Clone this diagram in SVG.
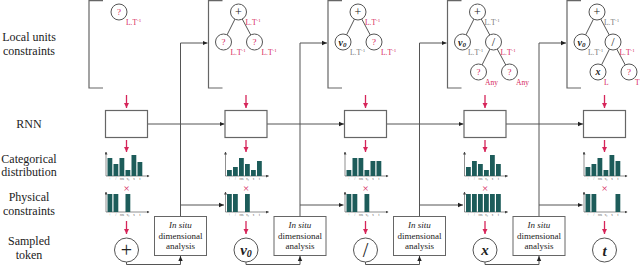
<svg xmlns="http://www.w3.org/2000/svg" width="640" height="266" viewBox="0 0 640 266">
<defs>
<style>
text{font-family:"Liberation Serif","Times New Roman","DejaVu Serif",serif}
.lbl{font-size:12px;fill:#222;text-anchor:middle}
.ln{fill:none;stroke:#555;stroke-width:1}
.br{fill:none;stroke:#666;stroke-width:1.2}
.red{fill:none;stroke:#d6255a;stroke-width:1.3}
.tc{fill:#fff;stroke:#555;stroke-width:1}
.tk{fill:#fff;stroke:#555;stroke-width:1}
.q{font-size:9px;fill:#d6255a;text-anchor:middle}
.op{font-size:12px;fill:#222;text-anchor:middle}
.mv{font-size:10px;font-weight:bold;font-style:italic;fill:#222;text-anchor:middle}
.bigop{font-size:20px;fill:#222;text-anchor:middle}
.bigv{font-size:15px;font-weight:bold;font-style:italic;fill:#222;text-anchor:middle}
.ur{font-size:7.5px;fill:#d6255a}
.ug{font-size:7.5px;fill:#777}
.sup{font-size:5px}
.rnn{fill:#fff;stroke:#666;stroke-width:1.2}
.isb{fill:#fff;stroke:#666;stroke-width:1}
.ist{font-size:9px;fill:#222;text-anchor:middle}
.bar{fill:#1d5c5a}
.ax{fill:none;stroke:#444;stroke-width:0.6}
.tl{font-size:3px;fill:#444;text-anchor:middle}
.x{font-size:11px;fill:#d6255a;text-anchor:middle}
</style>
<marker id="ah" markerWidth="6" markerHeight="6" refX="5" refY="3" orient="auto" markerUnits="userSpaceOnUse">
<path d="M0,0.8 L5,3 L0,5.2 Z" fill="#222"/>
</marker>
<marker id="rah" markerWidth="6" markerHeight="6" refX="5" refY="3" orient="auto" markerUnits="userSpaceOnUse">
<path d="M0,0.5 L5,3 L0,5.5 Z" fill="#d6255a"/>
</marker>
<marker id="aa" markerWidth="3" markerHeight="3" refX="2.5" refY="1.5" orient="auto" markerUnits="userSpaceOnUse">
<path d="M0,0 L3,1.5 L0,3 Z" fill="#444"/>
</marker>
</defs>
<rect width="640" height="266" fill="#fff"/>

<g id="row-labels">
<text class="lbl" x="29" y="41">Local units</text>
<text class="lbl" x="29" y="55">constraints</text>
<text class="lbl" x="29" y="127.5">RNN</text>
<text class="lbl" x="29" y="162.5">Categorical</text>
<text class="lbl" x="29" y="176">distribution</text>
<text class="lbl" x="29" y="201">Physical</text>
<text class="lbl" x="29" y="215">constraints</text>
<text class="lbl" x="29" y="244.5">Sampled</text>
<text class="lbl" x="29" y="259">token</text>
</g>

<g id="connectors">
<path class="ln" d="M147.5,124 H224.5" marker-end="url(#ah)"/>
<path class="ln" d="M267,124 H344" marker-end="url(#ah)"/>
<path class="ln" d="M386.5,124 H463.5" marker-end="url(#ah)"/>
<path class="ln" d="M506,124 H583" marker-end="url(#ah)"/>
<path class="ln" d="M126.5,262 V264.5 H180.5 V256" marker-end="url(#ah)"/>
<path class="ln" d="M246,262 V264.5 H300 V256" marker-end="url(#ah)"/>
<path class="ln" d="M365.5,262 V264.5 H419.5 V256" marker-end="url(#ah)"/>
<path class="ln" d="M485,262 V264.5 H539 V256" marker-end="url(#ah)"/>
<path class="ln" d="M180.5,216 V43 H207.5" marker-end="url(#ah)"/>
<path class="ln" d="M300,216 V43 H327" marker-end="url(#ah)"/>
<path class="ln" d="M419.5,216 V43 H446.5" marker-end="url(#ah)"/>
<path class="ln" d="M539,216 V43 H566" marker-end="url(#ah)"/>
<path class="ln" d="M180.5,205 H224" marker-end="url(#ah)"/>
<path class="ln" d="M300,205 H343.5" marker-end="url(#ah)"/>
<path class="ln" d="M419.5,205 H463" marker-end="url(#ah)"/>
<path class="ln" d="M539,205 H582.5" marker-end="url(#ah)"/>
<path class="red" d="M126.5,95 V108" marker-end="url(#rah)"/>
<path class="red" d="M246,95 V108" marker-end="url(#rah)"/>
<path class="red" d="M365.5,95 V108" marker-end="url(#rah)"/>
<path class="red" d="M485,95 V108" marker-end="url(#rah)"/>
<path class="red" d="M604.5,95 V108" marker-end="url(#rah)"/>
<path class="red" d="M126.5,140 V152" marker-end="url(#rah)"/>
<path class="red" d="M246,140 V152" marker-end="url(#rah)"/>
<path class="red" d="M365.5,140 V152" marker-end="url(#rah)"/>
<path class="red" d="M485,140 V152" marker-end="url(#rah)"/>
<path class="red" d="M604.5,140 V152" marker-end="url(#rah)"/>
<path class="red" d="M126.5,221 V234" marker-end="url(#rah)"/>
<path class="red" d="M246,221 V234" marker-end="url(#rah)"/>
<path class="red" d="M365.5,221 V234" marker-end="url(#rah)"/>
<path class="red" d="M485,221 V234" marker-end="url(#rah)"/>
<path class="red" d="M604.5,221 V234" marker-end="url(#rah)"/>
</g>

<!-- Column 1 -->
<g id="tree1">
<path class="br" d="M103,0.6 H89 V88 H103"/>
<circle class="tc" cx="119" cy="12" r="8"/>
<text class="q" x="119" y="15">?</text>
<text class="ur" x="126" y="25">L.T<tspan class="sup" dy="-3">-1</tspan></text>
</g>
<g id="rnn1"><rect class="rnn" x="105.5" y="110.5" width="42" height="27"/></g>
<g id="cat1">
<path class="ax" d="M106,176 V152" marker-end="url(#aa)"/>
<path class="ax" d="M106,176 H149" marker-end="url(#aa)"/>
<rect class="bar" x="107.5" y="158" width="4.8" height="18"/>
<rect class="bar" x="113.5" y="164" width="4.8" height="12"/>
<rect class="bar" x="119.5" y="158" width="4.8" height="18"/>
<rect class="bar" x="125.5" y="170" width="4.8" height="6"/>
<rect class="bar" x="131.5" y="155" width="4.8" height="21"/>
<rect class="bar" x="137.5" y="162" width="4.8" height="14"/>
<text class="tl" x="109.9" y="180">+</text><text class="tl" x="115.9" y="180">/</text><text class="tl" x="121.9" y="180">cos</text><text class="tl" x="127.9" y="180">v₀</text><text class="tl" x="133.9" y="180">x</text><text class="tl" x="139.9" y="180">t</text>
</g>
<g id="phys1">
<text class="x" x="126.5" y="191.5">×</text>
<path class="ax" d="M106,212 V192" marker-end="url(#aa)"/>
<path class="ax" d="M106,212 H149" marker-end="url(#aa)"/>
<rect class="bar" x="107.5" y="194" width="4.8" height="18"/>
<rect class="bar" x="113.5" y="194" width="4.8" height="18"/>
<rect class="bar" x="125.5" y="194" width="4.8" height="18"/>
<text class="tl" x="109.9" y="216">+</text><text class="tl" x="115.9" y="216">/</text><text class="tl" x="121.9" y="216">cos</text><text class="tl" x="127.9" y="216">v₀</text><text class="tl" x="133.9" y="216">x</text><text class="tl" x="139.9" y="216">t</text>
</g>
<g id="token1">
<circle class="tk" cx="126.5" cy="250" r="12"/>
<text class="bigop" x="126.5" y="257">+</text>
</g>
<g id="insitu1">
<rect class="isb" x="154.5" y="216.5" width="52" height="39"/>
<text class="ist" x="180.5" y="228" font-style="italic">In situ</text>
<text class="ist" x="180.5" y="238.5">dimensional</text>
<text class="ist" x="180.5" y="249">analysis</text>
</g>

<!-- Column 2 -->
<g id="tree2">
<path class="br" d="M222.5,0.6 H208.5 V88 H222.5"/>
<path class="ln" d="M238.5,12 L223.5,42 M238.5,12 L254.5,42"/>
<circle class="tc" cx="238.5" cy="12" r="8"/>
<text class="op" x="238.5" y="16">+</text>
<text class="ur" x="245.5" y="25">L.T<tspan class="sup" dy="-3">-1</tspan></text>
<circle class="tc" cx="223.5" cy="42" r="8"/>
<text class="q" x="223.5" y="45">?</text>
<text class="ur" x="230.5" y="55">L.T<tspan class="sup" dy="-3">-1</tspan></text>
<circle class="tc" cx="254.5" cy="42" r="8"/>
<text class="q" x="254.5" y="45">?</text>
<text class="ur" x="261.5" y="55">L.T<tspan class="sup" dy="-3">-1</tspan></text>
</g>
<g id="rnn2"><rect class="rnn" x="225" y="110.5" width="42" height="27"/></g>
<g id="cat2">
<path class="ax" d="M225.5,176 V152" marker-end="url(#aa)"/>
<path class="ax" d="M225.5,176 H268.5" marker-end="url(#aa)"/>
<rect class="bar" x="227" y="170" width="4.8" height="6"/>
<rect class="bar" x="233" y="167" width="4.8" height="9"/>
<rect class="bar" x="239" y="158" width="4.8" height="18"/>
<rect class="bar" x="245" y="164" width="4.8" height="12"/>
<rect class="bar" x="251" y="170" width="4.8" height="6"/>
<rect class="bar" x="257" y="161" width="4.8" height="15"/>
<text class="tl" x="229.4" y="180">+</text><text class="tl" x="235.4" y="180">/</text><text class="tl" x="241.4" y="180">cos</text><text class="tl" x="247.4" y="180">v₀</text><text class="tl" x="253.4" y="180">x</text><text class="tl" x="259.4" y="180">t</text>
</g>
<g id="phys2">
<text class="x" x="246" y="191.5">×</text>
<path class="ax" d="M225.5,212 V192" marker-end="url(#aa)"/>
<path class="ax" d="M225.5,212 H268.5" marker-end="url(#aa)"/>
<rect class="bar" x="227" y="194" width="4.8" height="18"/>
<rect class="bar" x="233" y="194" width="4.8" height="18"/>
<rect class="bar" x="245" y="194" width="4.8" height="18"/>
<text class="tl" x="229.4" y="216">+</text><text class="tl" x="235.4" y="216">/</text><text class="tl" x="241.4" y="216">cos</text><text class="tl" x="247.4" y="216">v₀</text><text class="tl" x="253.4" y="216">x</text><text class="tl" x="259.4" y="216">t</text>
</g>
<g id="token2">
<circle class="tk" cx="246" cy="250" r="12"/>
<text class="bigv" x="246" y="255">v<tspan font-size="10" dy="2">0</tspan></text>
</g>
<g id="insitu2">
<rect class="isb" x="274" y="216.5" width="52" height="39"/>
<text class="ist" x="300" y="228" font-style="italic">In situ</text>
<text class="ist" x="300" y="238.5">dimensional</text>
<text class="ist" x="300" y="249">analysis</text>
</g>

<!-- Column 3 -->
<g id="tree3">
<path class="br" d="M342,0.6 H328 V88 H342"/>
<path class="ln" d="M358,12 L343,42 M358,12 L374,42"/>
<circle class="tc" cx="358" cy="12" r="8"/>
<text class="op" x="358" y="16">+</text>
<text class="ur" x="365" y="25">L.T<tspan class="sup" dy="-3">-1</tspan></text>
<circle class="tc" cx="343" cy="42" r="8"/>
<text class="mv" x="342.5" y="45.5">v<tspan font-size="7" dy="1.5">0</tspan></text>
<text class="ug" x="350" y="55">L.T<tspan class="sup" dy="-3">-1</tspan></text>
<circle class="tc" cx="374" cy="42" r="8"/>
<text class="q" x="374" y="45">?</text>
<text class="ur" x="381" y="55">L.T<tspan class="sup" dy="-3">-1</tspan></text>
</g>
<g id="rnn3"><rect class="rnn" x="344.5" y="110.5" width="42" height="27"/></g>
<g id="cat3">
<path class="ax" d="M345,176 V152" marker-end="url(#aa)"/>
<path class="ax" d="M345,176 H388" marker-end="url(#aa)"/>
<rect class="bar" x="346.5" y="170" width="4.8" height="6"/>
<rect class="bar" x="352.5" y="158" width="4.8" height="18"/>
<rect class="bar" x="358.5" y="158" width="4.8" height="18"/>
<rect class="bar" x="364.5" y="170" width="4.8" height="6"/>
<rect class="bar" x="370.5" y="161" width="4.8" height="15"/>
<rect class="bar" x="376.5" y="161" width="4.8" height="15"/>
<text class="tl" x="348.9" y="180">+</text><text class="tl" x="354.9" y="180">/</text><text class="tl" x="360.9" y="180">cos</text><text class="tl" x="366.9" y="180">v₀</text><text class="tl" x="372.9" y="180">x</text><text class="tl" x="378.9" y="180">t</text>
</g>
<g id="phys3">
<text class="x" x="365.5" y="191.5">×</text>
<path class="ax" d="M345,212 V192" marker-end="url(#aa)"/>
<path class="ax" d="M345,212 H388" marker-end="url(#aa)"/>
<rect class="bar" x="346.5" y="194" width="4.8" height="18"/>
<rect class="bar" x="352.5" y="194" width="4.8" height="18"/>
<rect class="bar" x="364.5" y="194" width="4.8" height="18"/>
<text class="tl" x="348.9" y="216">+</text><text class="tl" x="354.9" y="216">/</text><text class="tl" x="360.9" y="216">cos</text><text class="tl" x="366.9" y="216">v₀</text><text class="tl" x="372.9" y="216">x</text><text class="tl" x="378.9" y="216">t</text>
</g>
<g id="token3">
<circle class="tk" cx="365.5" cy="250" r="12"/>
<text class="bigop" x="365.5" y="256.5">/</text>
</g>
<g id="insitu3">
<rect class="isb" x="393.5" y="216.5" width="52" height="39"/>
<text class="ist" x="419.5" y="228" font-style="italic">In situ</text>
<text class="ist" x="419.5" y="238.5">dimensional</text>
<text class="ist" x="419.5" y="249">analysis</text>
</g>

<!-- Column 4 -->
<g id="tree4">
<path class="br" d="M461.5,0.6 H447.5 V88 H461.5"/>
<path class="ln" d="M477.5,12 L462.5,42 M477.5,12 L493.5,42 M493.5,42 L478.5,72 M493.5,42 L509.5,72"/>
<circle class="tc" cx="477.5" cy="12" r="8"/>
<text class="op" x="477.5" y="16">+</text>
<text class="ug" x="484.5" y="25">L.T<tspan class="sup" dy="-3">-1</tspan></text>
<circle class="tc" cx="462.5" cy="42" r="8"/>
<text class="mv" x="462" y="45.5">v<tspan font-size="7" dy="1.5">0</tspan></text>
<text class="ug" x="468" y="55">L.T<tspan class="sup" dy="-3">-1</tspan></text>
<circle class="tc" cx="493.5" cy="42" r="8"/>
<text class="op" x="493.5" y="46">/</text>
<text class="ur" x="500.5" y="55">L.T<tspan class="sup" dy="-3">-1</tspan></text>
<circle class="tc" cx="478.5" cy="72" r="8"/>
<text class="q" x="478.5" y="75">?</text>
<text class="ur" x="485" y="85">Any</text>
<circle class="tc" cx="509.5" cy="72" r="8"/>
<text class="q" x="509.5" y="75">?</text>
<text class="ur" x="516" y="85">Any</text>
</g>
<g id="rnn4"><rect class="rnn" x="464" y="110.5" width="42" height="27"/></g>
<g id="cat4">
<path class="ax" d="M464.5,176 V152" marker-end="url(#aa)"/>
<path class="ax" d="M464.5,176 H507.5" marker-end="url(#aa)"/>
<rect class="bar" x="466" y="167" width="4.8" height="9"/>
<rect class="bar" x="472" y="161" width="4.8" height="15"/>
<rect class="bar" x="478" y="164" width="4.8" height="12"/>
<rect class="bar" x="484" y="170" width="4.8" height="6"/>
<rect class="bar" x="490" y="155" width="4.8" height="21"/>
<rect class="bar" x="496" y="164" width="4.8" height="12"/>
<text class="tl" x="468.4" y="180">+</text><text class="tl" x="474.4" y="180">/</text><text class="tl" x="480.4" y="180">cos</text><text class="tl" x="486.4" y="180">v₀</text><text class="tl" x="492.4" y="180">x</text><text class="tl" x="498.4" y="180">t</text>
</g>
<g id="phys4">
<text class="x" x="485" y="191.5">×</text>
<path class="ax" d="M464.5,212 V192" marker-end="url(#aa)"/>
<path class="ax" d="M464.5,212 H507.5" marker-end="url(#aa)"/>
<rect class="bar" x="466" y="194" width="4.8" height="18"/>
<rect class="bar" x="472" y="194" width="4.8" height="18"/>
<rect class="bar" x="478" y="194" width="4.8" height="18"/>
<rect class="bar" x="484" y="194" width="4.8" height="18"/>
<rect class="bar" x="490" y="194" width="4.8" height="18"/>
<rect class="bar" x="496" y="194" width="4.8" height="18"/>
<text class="tl" x="468.4" y="216">+</text><text class="tl" x="474.4" y="216">/</text><text class="tl" x="480.4" y="216">cos</text><text class="tl" x="486.4" y="216">v₀</text><text class="tl" x="492.4" y="216">x</text><text class="tl" x="498.4" y="216">t</text>
</g>
<g id="token4">
<circle class="tk" cx="485" cy="250" r="12"/>
<text class="bigv" x="485" y="254.5">x</text>
</g>
<g id="insitu4">
<rect class="isb" x="513" y="216.5" width="52" height="39"/>
<text class="ist" x="539" y="228" font-style="italic">In situ</text>
<text class="ist" x="539" y="238.5">dimensional</text>
<text class="ist" x="539" y="249">analysis</text>
</g>

<!-- Column 5 -->
<g id="tree5">
<path class="br" d="M581,0.6 H567 V88 H581"/>
<path class="ln" d="M597,12 L582,42 M597,12 L613,42 M613,42 L598,72 M613,42 L629,72"/>
<circle class="tc" cx="597" cy="12" r="8"/>
<text class="op" x="597" y="16">+</text>
<text class="ug" x="604" y="25">L.T<tspan class="sup" dy="-3">-1</tspan></text>
<circle class="tc" cx="582" cy="42" r="8"/>
<text class="mv" x="581.5" y="45.5">v<tspan font-size="7" dy="1.5">0</tspan></text>
<text class="ug" x="588" y="55">L.T<tspan class="sup" dy="-3">-1</tspan></text>
<circle class="tc" cx="613" cy="42" r="8"/>
<text class="op" x="613" y="46">/</text>
<text class="ur" x="619.5" y="55">L.T<tspan class="sup" dy="-3">-1</tspan></text>
<circle class="tc" cx="598" cy="72" r="8"/>
<text class="mv" x="598" y="75">x</text>
<text class="ur" x="604" y="85">L</text>
<circle class="tc" cx="629" cy="72" r="8"/>
<text class="q" x="629" y="75">?</text>
<text class="ur" x="635" y="85">T</text>
</g>
<g id="rnn5"><rect class="rnn" x="583.5" y="110.5" width="42" height="27"/></g>
<g id="cat5">
<path class="ax" d="M584,176 V152" marker-end="url(#aa)"/>
<path class="ax" d="M584,176 H627" marker-end="url(#aa)"/>
<rect class="bar" x="585.5" y="167" width="4.8" height="9"/>
<rect class="bar" x="591.5" y="164" width="4.8" height="12"/>
<rect class="bar" x="597.5" y="158" width="4.8" height="18"/>
<rect class="bar" x="603.5" y="170" width="4.8" height="6"/>
<rect class="bar" x="609.5" y="155" width="4.8" height="21"/>
<rect class="bar" x="615.5" y="161" width="4.8" height="15"/>
<text class="tl" x="587.9" y="180">+</text><text class="tl" x="593.9" y="180">/</text><text class="tl" x="599.9" y="180">cos</text><text class="tl" x="605.9" y="180">v₀</text><text class="tl" x="611.9" y="180">x</text><text class="tl" x="617.9" y="180">t</text>
</g>
<g id="phys5">
<text class="x" x="604.5" y="191.5">×</text>
<path class="ax" d="M584,212 V192" marker-end="url(#aa)"/>
<path class="ax" d="M584,212 H627" marker-end="url(#aa)"/>
<rect class="bar" x="585.5" y="194" width="4.8" height="18"/>
<rect class="bar" x="591.5" y="194" width="4.8" height="18"/>
<rect class="bar" x="615.5" y="194" width="4.8" height="18"/>
<text class="tl" x="587.9" y="216">+</text><text class="tl" x="593.9" y="216">/</text><text class="tl" x="599.9" y="216">cos</text><text class="tl" x="605.9" y="216">v₀</text><text class="tl" x="611.9" y="216">x</text><text class="tl" x="617.9" y="216">t</text>
</g>
<g id="token5">
<circle class="tk" cx="604.5" cy="250" r="12"/>
<text class="bigv" x="604.5" y="255.5">t</text>
</g>
</svg>
